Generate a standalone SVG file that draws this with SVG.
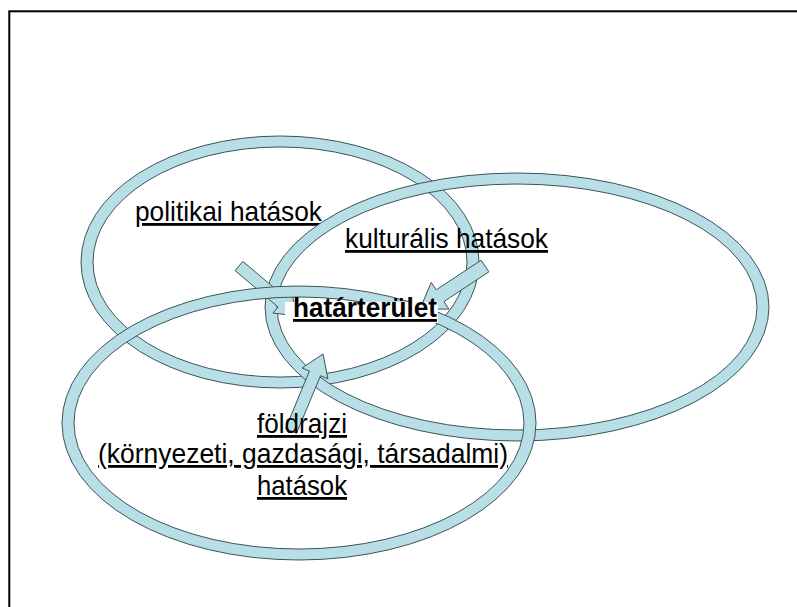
<svg xmlns="http://www.w3.org/2000/svg" width="797" height="607" viewBox="0 0 797 607">
  <style>
    .ring { fill: #b8dfe6; fill-rule: evenodd; stroke: #3d5358; stroke-width: 1; }
    .arrow { fill: #b8dfe6; stroke: #3d5358; stroke-width: 1; stroke-linejoin: miter; }
    .lbl { font-family: "Liberation Sans", Arial, sans-serif; font-size: 28px; fill: #000; text-anchor: middle; text-decoration: underline; }
    .bold { font-weight: bold; }
  </style>
  <rect x="0" y="0" width="797" height="607" fill="#ffffff"/>
  <rect x="9.3" y="11.3" width="830" height="650" fill="none" stroke="#000" stroke-width="2"/>

  <g id="politikai">
    <path class="ring" d="M81,262 a199,126 0 1,0 398,0 a199,126 0 1,0 -398,0 Z M93,262 a187,115 0 1,0 374,0 a187,115 0 1,0 -374,0 Z"/>
    <text class="lbl" x="228.5" y="221" textLength="187" lengthAdjust="spacingAndGlyphs">politikai hatások</text>
  </g>

  <g id="kulturalis">
    <path class="ring" d="M265,307 a252,134 0 1,0 504,0 a252,134 0 1,0 -504,0 Z M277,307 a240,123 0 1,0 480,0 a240,123 0 1,0 -480,0 Z"/>
    <text class="lbl" x="446.5" y="248" textLength="203" lengthAdjust="spacingAndGlyphs">kulturális hatások</text>
  </g>

  <g id="connectors">
    <polygon class="arrow" points="235.1,270.6 278.1,307.0 272.9,313.1 298,316 291.0,291.7 285.9,297.8 242.9,261.4"/>
    <polygon class="arrow" points="481.1,260.2 436.2,289.9 431.2,282.4 420,309 448.9,309.1 443.9,301.6 488.9,271.8"/>
    <polygon class="arrow" points="296.5,433.3 320.5,375.7 327.9,378.8 323,354 302.0,368.0 309.4,371.1 285.5,428.7"/>
  </g>

  <g id="foldrajzi">
    <path class="ring" d="M62,423 a237,137 0 1,0 474,0 a237,137 0 1,0 -474,0 Z M74,423 a225,126 0 1,0 450,0 a225,126 0 1,0 -450,0 Z"/>
    <text class="lbl" x="302" y="433" textLength="90" lengthAdjust="spacingAndGlyphs">földrajzi</text>
    <text class="lbl" x="303" y="463" textLength="410" lengthAdjust="spacingAndGlyphs">(környezeti, gazdasági, társadalmi)</text>
    <text class="lbl" x="302" y="495" textLength="90" lengthAdjust="spacingAndGlyphs">hatások</text>
  </g>

  <g id="hatarterulet">
    <rect x="285" y="302" width="153" height="21" fill="#ffffff"/>
    <text class="lbl bold" x="365" y="317" textLength="144" lengthAdjust="spacingAndGlyphs">határterület</text>
  </g>
</svg>
